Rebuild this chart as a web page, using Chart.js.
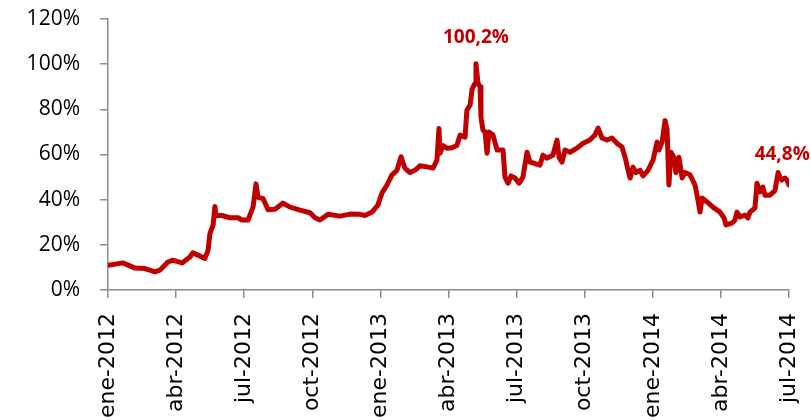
<!DOCTYPE html>
<html>
<head>
<meta charset="utf-8">
<script src="https://cdn.jsdelivr.net/npm/chart.js@4"></script>
<style>
  html, body { margin: 0; padding: 0; background: #fff; }
  #wrap { width: 811px; height: 420px; }
</style>
</head>
<body>
<div id="wrap"><canvas id="spreadChart"></canvas></div>
<script>
// months since ene-2012
const months = [0, 0.66, 1.19, 1.63, 2.07, 2.29, 2.64, 2.86, 3.26, 3.61, 3.74, 4.05, 4.27, 4.41, 4.49, 4.63, 4.71, 4.76,
  5.02, 5.37, 5.73, 5.9, 6.17, 6.39, 6.52, 6.61, 6.83, 7.05, 7.36, 7.71, 8.02, 8.46, 8.9, 9.12, 9.34, 9.69,
  10.22, 10.66, 11.1, 11.32, 11.63, 11.89, 12.07, 12.29, 12.51, 12.73, 12.91, 13.08, 13.3, 13.52, 13.74,
  14.1, 14.32, 14.49, 14.58, 14.63, 14.76, 14.93, 15.15, 15.37, 15.51, 15.73, 15.81, 15.95, 16.04, 16.17,
  16.21, 16.3, 16.39, 16.43, 16.52, 16.61, 16.7, 16.78, 16.96, 17.14, 17.4, 17.49, 17.62, 17.75, 17.93,
  18.11, 18.28, 18.46, 18.59, 18.81, 19.03, 19.16, 19.34, 19.6, 19.78, 19.87, 20.0, 20.13, 20.35, 20.66,
  20.93, 21.23, 21.45, 21.59, 21.76, 21.98, 22.2, 22.42, 22.64, 22.78, 22.91, 23.0, 23.13, 23.26, 23.44,
  23.57, 23.79, 24.01, 24.19, 24.27, 24.41, 24.54, 24.63, 24.71, 24.8, 24.93, 25.02, 25.15, 25.29, 25.42,
  25.64, 25.86, 25.99, 26.08, 26.17, 26.39, 26.65, 26.96, 27.14, 27.22, 27.49, 27.62, 27.71, 27.84, 28.06,
  28.19, 28.28, 28.5, 28.59, 28.72, 28.85, 28.94, 29.16, 29.38, 29.52, 29.6, 29.69, 29.82, 29.91, 30.0];

const values = [11, 12, 9.7, 9.5, 8, 8.8, 12.4, 13.2, 12, 14.6, 16.5, 15, 14, 17.7, 25, 28.8, 37, 33,
  33, 32, 32, 31, 31, 36.7, 47, 41, 40.5, 35.5, 35.8, 38.5, 36.7, 35.4, 34.2, 32, 31, 33.5,
  32.7, 33.6, 33.5, 33, 34.5, 37.6, 43, 46.5, 51, 53, 59, 54, 52, 53, 55,
  54.4, 54, 57.5, 71.5, 60.6, 64, 62.8, 63, 64, 68.6, 67.7, 79.6, 81.9, 89, 91.6,
  100.2, 91.6, 90, 76.6, 70.8, 70, 60.6, 70, 68.6, 62, 62, 50, 47.3, 50.5, 49.6,
  47.3, 50, 61, 56.6, 56, 55.3, 59.7, 58.4, 59.7, 66.4, 58.8, 56.6, 62, 61, 62.8,
  65, 66.4, 68.6, 71.7, 67.3, 66.4, 67.3, 65, 63.3, 58.8, 53, 49.6, 54.4, 52, 53,
  50.5, 53, 57.5, 65.5, 62, 65.5, 75, 70.8, 46.5, 61, 58.8, 52, 58.8, 49.6, 52,
  51, 46.5, 39.8, 34.5, 40.7, 39, 36.7, 34.5, 31.9, 28.8, 29.6, 31, 34.5, 32.3, 33.2,
  31.9, 34.5, 36.3, 47.3, 43.4, 45.6, 42, 42, 44, 52, 50, 48.7, 49.6, 48.7, 46.5];

const tickLabels = ["ene-2012", "abr-2012", "jul-2012", "oct-2012", "ene-2013", "abr-2013",
  "jul-2013", "oct-2013", "ene-2014", "abr-2014", "jul-2014"];

const callouts = [
  { text: "100,2%", month: 16.21, value: 100.2, dy: -26 },
  { text: "44,8%", month: 29.7, value: 44.8, dy: -34 },
];

const points = months.map((m, i) => ({ x: m, y: values[i] }));

const calloutPlugin = {
  id: "callouts",
  afterDatasetsDraw(chart) {
    const { ctx, scales } = chart;
    ctx.save();
    ctx.font = "bold 19px 'Open Sans'";
    ctx.fillStyle = "#c00000";
    ctx.textAlign = "center";
    ctx.textBaseline = "middle";
    callouts.forEach((c) => {
      ctx.fillText(c.text, scales.x.getPixelForValue(c.month), scales.y.getPixelForValue(c.value) + c.dy);
    });
    ctx.restore();
  },
};

const axisColor = "#8c8c8c";

new Chart(document.getElementById("spreadChart"), {
  type: "line",
  data: {
    datasets: [
      {
        data: points,
        borderColor: "#c00000",
        borderWidth: 5,
        borderJoinStyle: "round",
        borderCapStyle: "round",
        pointRadius: 0,
        tension: 0,
      },
    ],
  },
  options: {
    responsive: true,
    maintainAspectRatio: false,
    animation: false,
    layout: { padding: { top: 19, right: 22, left: 0, bottom: 0 } },
    plugins: {
      legend: { display: false },
      tooltip: { enabled: false },
    },
    scales: {
      x: {
        type: "linear",
        min: 0,
        max: 30,
        afterFit: (scale) => {
          scale.height = 130;
          scale.paddingLeft = 0;
          scale.paddingRight = 0;
        },
        border: { color: axisColor, width: 1.5 },
        grid: { drawOnChartArea: false, color: axisColor, tickLength: 8, lineWidth: 1.5 },
        ticks: {
          stepSize: 3,
          autoSkip: false,
          maxRotation: 90,
          minRotation: 90,
          padding: 15,
          color: "#000",
          font: { family: "'DejaVu Sans'", size: 22 },
          callback: (v) => tickLabels[Math.round(v / 3)],
        },
      },
      y: {
        min: 0,
        max: 120,
        afterFit: (scale) => {
          scale.width = 108;
          scale.paddingTop = 0;
          scale.paddingBottom = 0;
        },
        border: { color: axisColor, width: 1.5 },
        grid: { drawOnChartArea: false, color: axisColor, tickLength: 8, lineWidth: 1.5 },
        ticks: {
          stepSize: 20,
          padding: 20,
          color: "#000",
          font: { family: "'Open Sans'", size: 21 },
          callback: (v) => v + "%",
        },
      },
    },
  },
  plugins: [calloutPlugin],
});
</script>
</body>
</html>
